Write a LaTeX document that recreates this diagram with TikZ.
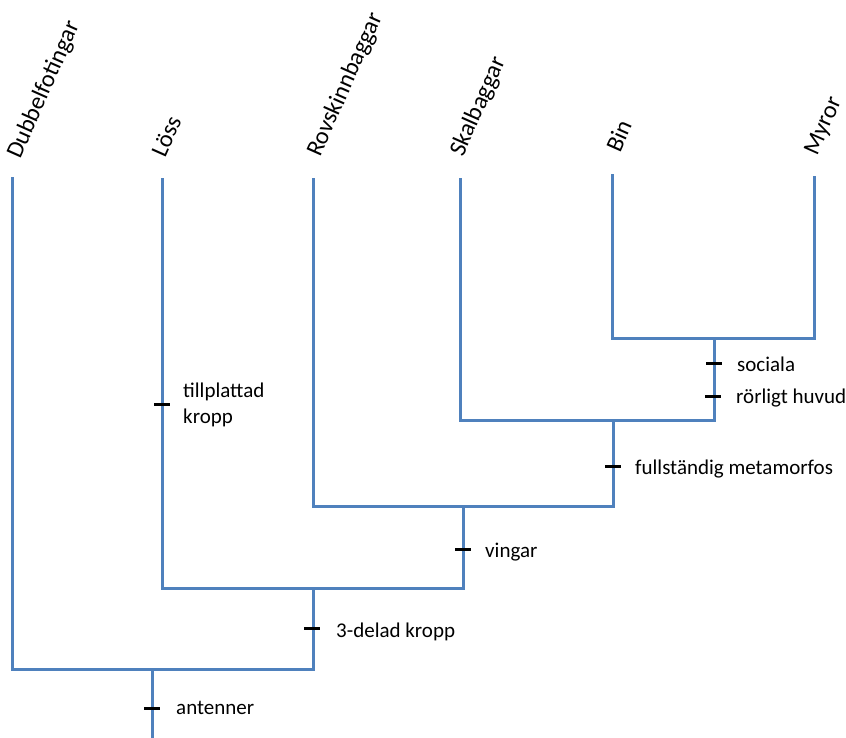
\documentclass[tikz,border=0pt]{standalone}
\usepackage{fontspec}
\setmainfont{Carlito}
\definecolor{clade}{RGB}{79,129,189}
\tikzset{
  branch/.style={draw=clade, line width=3pt},
  tickmark/.style={draw=black, line width=3pt},
  trait/.style={anchor=base west, inner sep=0pt, font=\fontsize{21}{26}\selectfont, align=left},
  taxon/.style={anchor=base west, inner sep=0pt, rotate=66, font=\fontsize{24.2}{29}\selectfont}
}
\begin{document}
\begin{tikzpicture}[x=1pt,y=-1pt]
\useasboundingbox (0,0) rectangle (846,737);
% tips
\coordinate (tD) at (12,177);
\coordinate (tL) at (162,178);
\coordinate (tR) at (313,178);
\coordinate (tS) at (460,178);
\coordinate (tB) at (612,174);
\coordinate (tM) at (814,176);
% junctions
\coordinate (jBM) at (714,338);
\coordinate (eS) at (714,420);
\coordinate (jS) at (613,420);
\coordinate (eR) at (613,506);
\coordinate (jR) at (463,506);
\coordinate (eL) at (463,588);
\coordinate (jL) at (313,588);
\coordinate (eD) at (313,669);
\coordinate (jD) at (152,669);
\coordinate (root) at (152,740);
% taxa
\node[taxon] (nD) at (20,160) {Dubbelfotingar};
\node[taxon] (nL) at (165,159) {Löss};
\node[taxon] (nR) at (320,158) {Rovskinnbaggar};
\node[taxon] (nS) at (463,158) {Skalbaggar};
\node[taxon] (nB) at (620,154) {Bin};
\node[taxon] (nM) at (817,157) {Myror};
% branches
\draw[branch] (tB) |- (jBM) -| (tM);
\draw[branch] (tS) |- (eS) -- (jBM);
\draw[branch] (tR) |- (eR) -- (jS);
\draw[branch] (tL) |- (eL) -- (jR);
\draw[branch] (tD) |- (eD) -- (jL);
\draw[branch] (jD) -- (root);
% ticks
\draw[tickmark] (144,708) -- (160,708);
\draw[tickmark] (304,628) -- (320,628);
\draw[tickmark] (455,549) -- (471,549);
\draw[tickmark] (154,404) -- (170,404);
\draw[tickmark] (605,466) -- (621,466);
\draw[tickmark] (706,363) -- (722,363);
\draw[tickmark] (705,396) -- (721,396);
% traits
\node[trait] (aAnt) at (176,714) {antenner};
\node[trait] (aKro) at (336,637) {3-delad kropp};
\node[trait] (aVin) at (485,557) {vingar};
\node[trait, anchor=north west] (aTil) at (183,383) {tillplattad\\kropp};
\node[trait] (aMet) at (635,474) {fullständig metamorfos};
\node[trait] (aSoc) at (737,371) {sociala};
\node[trait] (aHuv) at (736,403) {rörligt huvud};
\end{tikzpicture}
\end{document}
